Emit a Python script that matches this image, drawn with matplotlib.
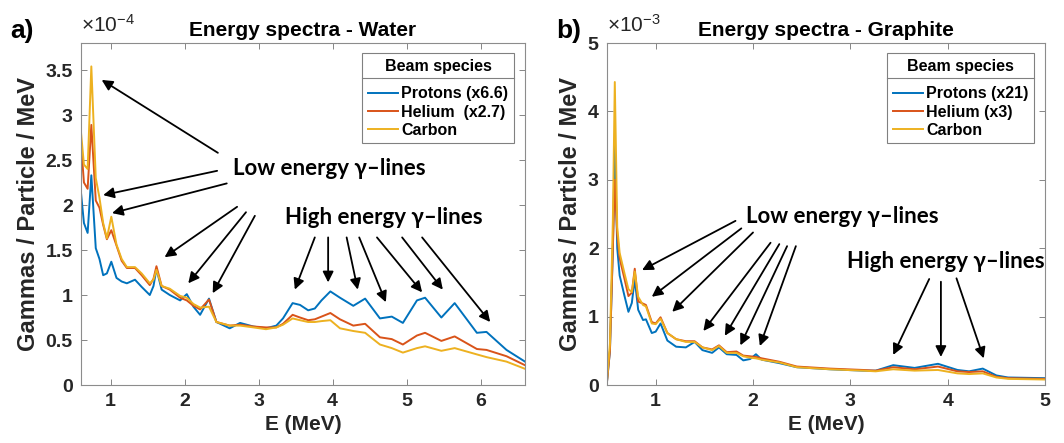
import matplotlib.pyplot as plt
from matplotlib.lines import Line2D

# Panel a) water, values in 1e-4 gammas / particle / MeV
e_water = [0.60, 0.64, 0.69, 0.74, 0.80, 0.85, 0.90, 0.95, 1.01, 1.08,
           1.15, 1.22, 1.33, 1.42, 1.53, 1.58, 1.62, 1.69, 1.80, 1.94,
           2.03, 2.12, 2.21, 2.33, 2.43, 2.61, 2.75, 2.93, 3.10, 3.24,
           3.33, 3.46, 3.56, 3.67, 3.76, 3.85, 3.97, 4.10, 4.28, 4.44,
           4.64, 4.80, 4.95, 5.14, 5.25, 5.47, 5.65, 5.95, 6.08, 6.35, 6.60]
water_protons = [2.14, 1.80, 1.69, 2.33, 1.52, 1.40, 1.22, 1.24, 1.37, 1.19,
                 1.15, 1.13, 1.17, 1.09, 1.00, 1.10, 1.29, 1.06, 1.00, 0.94,
                 1.01, 0.87, 0.78, 0.96, 0.70, 0.63, 0.69, 0.65, 0.63, 0.66,
                 0.74, 0.91, 0.89, 0.83, 0.85, 0.94, 1.04, 0.97, 0.88, 0.96,
                 0.74, 0.76, 0.69, 0.94, 0.97, 0.75, 0.91, 0.58, 0.59, 0.39, 0.26]
water_helium = [2.69, 2.25, 2.18, 2.89, 2.05, 1.97, 1.78, 1.62, 1.72, 1.55,
                1.38, 1.30, 1.30, 1.22, 1.11, 1.18, 1.32, 1.10, 1.06, 0.97,
                0.94, 0.88, 0.84, 0.95, 0.70, 0.66, 0.67, 0.65, 0.64, 0.64,
                0.68, 0.78, 0.75, 0.72, 0.73, 0.76, 0.80, 0.73, 0.66, 0.68,
                0.53, 0.51, 0.45, 0.55, 0.58, 0.49, 0.54, 0.40, 0.39, 0.32, 0.22]
water_carbon = [2.81, 2.45, 2.40, 3.54, 2.30, 2.08, 1.80, 1.63, 1.87, 1.56,
                1.40, 1.31, 1.31, 1.24, 1.13, 1.17, 1.28, 1.10, 1.07, 0.99,
                0.97, 0.90, 0.86, 0.87, 0.70, 0.66, 0.66, 0.64, 0.62, 0.64,
                0.67, 0.74, 0.72, 0.70, 0.70, 0.71, 0.72, 0.63, 0.60, 0.58,
                0.45, 0.41, 0.36, 0.41, 0.43, 0.38, 0.41, 0.34, 0.31, 0.26, 0.18]

# Panel b) graphite, values in 1e-3 gammas / particle / MeV
e_graph = [0.50, 0.53, 0.56, 0.58, 0.605, 0.63, 0.68, 0.72, 0.755, 0.785,
           0.82, 0.87, 0.90, 0.96, 1.00, 1.05, 1.12, 1.21, 1.31, 1.40,
           1.48, 1.58, 1.65, 1.73, 1.83, 1.90, 1.97, 2.03, 2.09, 2.27,
           2.45, 2.79, 3.13, 3.26, 3.44, 3.66, 3.90, 4.10, 4.22, 4.36,
           4.50, 4.62, 5.00]
graph_protons = [0.05, 0.5, 2.0, 3.54, 2.0, 1.60, 1.30, 1.07, 1.20, 1.55,
                 1.10, 0.95, 0.96, 0.76, 0.78, 0.90, 0.65, 0.56, 0.55, 0.63,
                 0.51, 0.47, 0.55, 0.45, 0.44, 0.36, 0.38, 0.45, 0.37, 0.32,
                 0.26, 0.23, 0.21, 0.21, 0.29, 0.25, 0.31, 0.22, 0.20, 0.24,
                 0.14, 0.11, 0.10]
graph_helium = [0.05, 0.5, 2.0, 3.00, 2.2, 1.85, 1.55, 1.30, 1.35, 1.70,
                1.22, 1.19, 1.17, 0.92, 0.90, 0.99, 0.76, 0.67, 0.64, 0.64,
                0.55, 0.52, 0.58, 0.48, 0.49, 0.43, 0.42, 0.41, 0.39, 0.34,
                0.27, 0.24, 0.22, 0.21, 0.26, 0.23, 0.27, 0.20, 0.19, 0.20,
                0.12, 0.10, 0.09]
graph_carbon = [0.07, 0.6, 2.4, 4.43, 2.31, 1.93, 1.63, 1.40, 1.36, 1.66,
                1.29, 1.17, 1.15, 0.90, 0.89, 0.97, 0.76, 0.67, 0.63, 0.63,
                0.55, 0.51, 0.57, 0.47, 0.47, 0.42, 0.40, 0.39, 0.37, 0.33,
                0.26, 0.23, 0.21, 0.20, 0.23, 0.21, 0.22, 0.17, 0.16, 0.17,
                0.11, 0.09, 0.08]

labels_water = ['Protons (x6.6)', 'Helium  (x2.7)', 'Carbon']
labels_graph = ['Protons (x21)', 'Helium (x3)', 'Carbon']
colors = ['#0072BD', '#D95319', '#EDB120']

# arrows: (head E, head y, tail E, tail y) in data units
water_low_arrows = [(0.88, 3.39, 2.45, 2.58), (0.90, 2.11, 2.44, 2.38),
                    (1.02, 1.91, 2.57, 2.24), (1.73, 1.42, 2.71, 1.98),
                    (2.05, 1.13, 2.83, 1.92), (2.38, 1.02, 2.95, 1.88)]
water_high_arrows = [(3.49, 1.06, 3.76, 1.64), (3.94, 1.14, 3.94, 1.64),
                     (4.34, 1.06, 4.19, 1.64), (4.72, 0.92, 4.36, 1.64),
                     (5.21, 1.03, 4.60, 1.64), (5.49, 1.06, 4.94, 1.64),
                     (6.13, 0.70, 5.21, 1.64)]
graph_low_arrows = [(0.86, 1.68, 1.82, 2.40), (0.96, 1.29, 1.88, 2.29),
                    (1.17, 1.07, 2.00, 2.23), (1.49, 0.79, 2.18, 2.08),
                    (1.71, 0.72, 2.27, 2.06), (1.87, 0.58, 2.35, 2.03),
                    (2.07, 0.57, 2.44, 2.03)]
graph_high_arrows = [(3.44, 0.44, 3.81, 1.55), (3.93, 0.41, 3.93, 1.51),
                     (4.37, 0.39, 4.09, 1.56)]

plt.rcParams['font.family'] = ['Liberation Sans', 'DejaVu Sans']
plt.rcParams['font.weight'] = 'bold'
plt.rcParams['axes.titleweight'] = 'bold'
plt.rcParams['axes.labelweight'] = 'bold'
plt.rcParams['mathtext.fontset'] = 'custom'
plt.rcParams['mathtext.rm'] = 'Liberation Sans'
txt = '#262626'
note_font = ['Lato', 'DejaVu Sans']

fig = plt.figure(figsize=(10.64, 4.43), dpi=100)
ax1 = fig.add_axes([0.0761, 0.1309, 0.4173, 0.772])
ax2 = fig.add_axes([0.5705, 0.1309, 0.4117, 0.772])


def setup(ax, xlim, ylim, yticks, ylabels, xticks, title, letter, lx, power):
    ax.set_xlim(*xlim)
    ax.set_ylim(*ylim)
    ax.set_yticks(yticks)
    ax.set_yticklabels(ylabels)
    ax.set_xticks(xticks)
    ax.set_xticklabels([str(t) for t in xticks])
    ax.tick_params(direction='in', top=True, right=True, length=4,
                   width=0.6, color='0.45', labelsize=14, labelcolor=txt, pad=6)
    for s in ax.spines.values():
        s.set_color('0.55')
        s.set_linewidth(0.8)
    ax.set_xlabel('E (MeV)', fontsize=15, color=txt, labelpad=3)
    ax.set_ylabel('Gammas / Particle / MeV', fontsize=17, color=txt, labelpad=4)
    ax.set_title(title, fontsize=15, color='k', pad=5)
    ax.text(lx, 1.0, letter, transform=ax.transAxes, fontsize=19,
            fontweight='bold', color='k', va='bottom')
    ax.text(0.0, 1.02, r'$\mathregular{\times10^{%d}}$' % power,
            transform=ax.transAxes, fontsize=15, fontweight='normal',
            color=txt, va='bottom')


def arrows(ax, lst):
    for hx, hy, tx, ty in lst:
        ax.annotate('', xy=(hx, hy), xytext=(tx, ty),
                    arrowprops=dict(arrowstyle='-|>', color='k', lw=1.3,
                                    mutation_scale=16, shrinkA=0, shrinkB=0))


def legend(ax, handles, labels):
    leg = ax.legend(handles, labels, title='Beam species', loc='upper right',
                    bbox_to_anchor=(0.975, 0.97), fontsize=11.5,
                    title_fontproperties={'size': 11.5, 'weight': 'bold'},
                    fancybox=False, edgecolor='0.5', framealpha=1,
                    handlelength=1.9, handletextpad=0.2, borderpad=0.35,
                    labelspacing=0.2, borderaxespad=0)
    leg.get_frame().set_linewidth(0.8)
    leg._legend_box.sep = 9
    return leg


h1 = []
for vals, c in zip([water_protons, water_helium, water_carbon], colors):
    h1 += ax1.plot(e_water, vals, color=c, lw=1.4)
h2 = []
for vals, c in zip([graph_protons, graph_helium, graph_carbon], colors):
    h2 += ax2.plot(e_graph, vals, color=c, lw=1.4)

setup(ax1, (0.6, 6.6), (0, 3.8), [0, 0.5, 1, 1.5, 2, 2.5, 3, 3.5],
      ['0', '0.5', '1', '1.5', '2', '2.5', '3', '3.5'], [1, 2, 3, 4, 5, 6],
      'Energy spectra - Water', 'a)', -0.16, -4)
setup(ax2, (0.5, 5.0), (0, 5), [0, 1, 2, 3, 4, 5],
      ['0', '1', '2', '3', '4', '5'], [1, 2, 3, 4, 5],
      'Energy spectra - Graphite', 'b)', -0.115, -3)

leg1 = legend(ax1, h1, labels_water)
leg2 = legend(ax2, h2, labels_graph)

arrows(ax1, water_low_arrows)
arrows(ax1, water_high_arrows)
arrows(ax2, graph_low_arrows)
arrows(ax2, graph_high_arrows)

ax1.text(3.95, 2.41, 'Low energy \u03b3\u2013lines', family=note_font,
         fontsize=16, fontweight='bold', ha='center', va='center')
ax1.text(4.69, 1.86, 'High energy \u03b3\u2013lines', family=note_font,
         fontsize=16, fontweight='bold', ha='center', va='center')
ax2.text(2.92, 2.47, 'Low energy \u03b3\u2013lines', family=note_font,
         fontsize=16, fontweight='bold', ha='center', va='center')
ax2.text(3.98, 1.81, 'High energy \u03b3\u2013lines', family=note_font,
         fontsize=16, fontweight='bold', ha='center', va='center')

# separator line under legend titles
fig.canvas.draw()
inv = fig.transFigure.inverted()
for leg in (leg1, leg2):
    fb = leg.get_frame().get_window_extent()
    tb = leg.get_title().get_window_extent()
    y = tb.y0 - 4
    (x0, yy), (x1, _) = inv.transform([(fb.x0, y), (fb.x1, y)])
    fig.add_artist(Line2D([x0, x1], [yy, yy], color='0.5', lw=0.8))

fig.savefig('out.png', dpi=100)
